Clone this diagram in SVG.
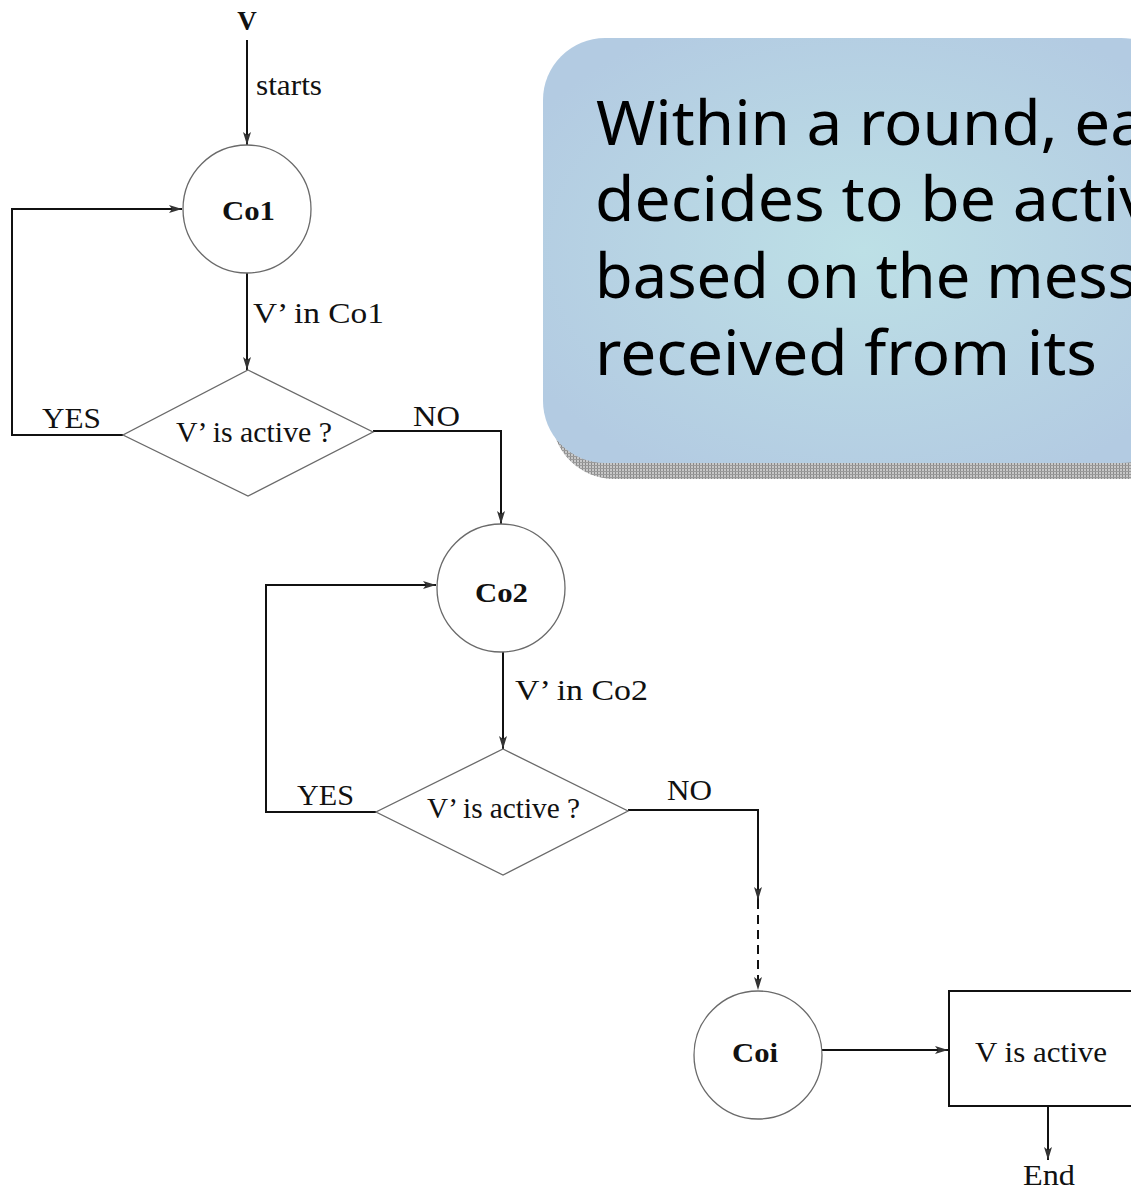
<svg xmlns="http://www.w3.org/2000/svg" width="1131" height="1192" viewBox="0 0 1131 1192">
  <style>
    .lbl { font-family: "Liberation Serif", "Times New Roman", serif; font-size: 30px; fill: #111; }
    .bold { font-weight: bold; font-size: 27px; }
    .conn { fill: none; stroke: #111; stroke-width: 2; }
    .shape { fill: #fff; stroke: #6a6a6a; stroke-width: 1.3; }
    .box { fill: #fff; stroke: #111; stroke-width: 2; }
    .note { font-family: "Noto Sans", "Open Sans", sans-serif; font-size: 62px; fill: #000; }
  </style>
  <defs>
    <marker id="arr" markerUnits="userSpaceOnUse" markerWidth="14" markerHeight="10" refX="13" refY="5" orient="auto">
      <path d="M0,1 L13,5 L0,9 L3,5 z" fill="#333"/>
    </marker>
    <radialGradient id="noteFill" cx="0.5" cy="0.5" r="0.6">
      <stop offset="0" stop-color="#bde0e6"/>
      <stop offset="1" stop-color="#b3cbe2"/>
    </radialGradient>
    <pattern id="hatch" width="3" height="3" patternUnits="userSpaceOnUse">
      <rect width="3" height="3" fill="#c8c8c8"/>
      <rect width="1" height="3" fill="#8a8a8a"/>
      <rect width="3" height="1" fill="#9a9a9a"/>
    </pattern>
  </defs>

  <g id="callout">
    <rect x="552" y="54" width="640" height="425" rx="62" ry="62" fill="url(#hatch)"/>
    <rect x="543" y="38" width="640" height="425" rx="62" ry="62" fill="url(#noteFill)"/>
    <text class="note" x="596" y="145" textLength="550" lengthAdjust="spacingAndGlyphs">Within a round, ea</text>
    <text class="note" x="595" y="221" textLength="557" lengthAdjust="spacingAndGlyphs">decides to be activ</text>
    <text class="note" x="595" y="298" textLength="542" lengthAdjust="spacingAndGlyphs">based on the mess</text>
    <text class="note" x="595" y="375" textLength="502" lengthAdjust="spacingAndGlyphs">received from its</text>
  </g>

  <g id="connectors">
    <line class="conn" x1="247" y1="40" x2="247" y2="145" marker-end="url(#arr)"/>
    <line class="conn" x1="247" y1="273" x2="247" y2="370" marker-end="url(#arr)"/>
    <polyline class="conn" points="123,435 12,435 12,209 182,209" marker-end="url(#arr)"/>
    <polyline class="conn" points="373,431 501,431 501,524" marker-end="url(#arr)"/>
    <line class="conn" x1="503" y1="652" x2="503" y2="749" marker-end="url(#arr)"/>
    <polyline class="conn" points="376,812 266,812 266,585 436,585" marker-end="url(#arr)"/>
    <polyline class="conn" points="628,810 758,810 758,900" marker-end="url(#arr)"/>
    <line class="conn" x1="758" y1="900" x2="758" y2="990" stroke-dasharray="9,6" marker-end="url(#arr)"/>
    <line class="conn" x1="822" y1="1050" x2="948" y2="1050" marker-end="url(#arr)"/>
    <line class="conn" x1="1048" y1="1106" x2="1048" y2="1160" marker-end="url(#arr)"/>
    <text class="lbl" x="256" y="95" textLength="66" lengthAdjust="spacingAndGlyphs">starts</text>
    <text class="lbl" x="253" y="323" textLength="131" lengthAdjust="spacingAndGlyphs">V’ in Co1</text>
    <text class="lbl" x="42" y="428" textLength="59" lengthAdjust="spacingAndGlyphs">YES</text>
    <text class="lbl" x="413" y="426" textLength="47" lengthAdjust="spacingAndGlyphs">NO</text>
    <text class="lbl" x="515" y="700" textLength="133" lengthAdjust="spacingAndGlyphs">V’ in Co2</text>
    <text class="lbl" x="297" y="805" textLength="57" lengthAdjust="spacingAndGlyphs">YES</text>
    <text class="lbl" x="667" y="800" textLength="45" lengthAdjust="spacingAndGlyphs">NO</text>
  </g>

  <g id="start">
    <text class="lbl bold" x="247" y="30" text-anchor="middle">V</text>
  </g>

  <g id="co1">
    <circle class="shape" cx="247" cy="209" r="64"/>
    <text class="lbl bold" x="222" y="220" textLength="53" lengthAdjust="spacingAndGlyphs">Co1</text>
  </g>

  <g id="decision1">
    <polygon class="shape" points="248,370 373,432 248,496 123,435"/>
    <text class="lbl" x="176" y="442" textLength="156" lengthAdjust="spacingAndGlyphs">V’ is active ?</text>
  </g>

  <g id="co2">
    <circle class="shape" cx="501" cy="588" r="64"/>
    <text class="lbl bold" x="475" y="602" textLength="53" lengthAdjust="spacingAndGlyphs">Co2</text>
  </g>

  <g id="decision2">
    <polygon class="shape" points="503,749 628,811 503,875 376,812"/>
    <text class="lbl" x="427" y="818" textLength="153" lengthAdjust="spacingAndGlyphs">V’ is active ?</text>
  </g>

  <g id="coi">
    <circle class="shape" cx="758" cy="1055" r="64"/>
    <text class="lbl bold" x="732" y="1062" textLength="46" lengthAdjust="spacingAndGlyphs">Coi</text>
  </g>

  <g id="active">
    <rect class="box" x="949" y="991" width="200" height="115"/>
    <text class="lbl" x="975" y="1062" textLength="132" lengthAdjust="spacingAndGlyphs">V is active</text>
  </g>

  <g id="end">
    <text class="lbl" x="1023" y="1185" textLength="52" lengthAdjust="spacingAndGlyphs">End</text>
  </g>
</svg>
